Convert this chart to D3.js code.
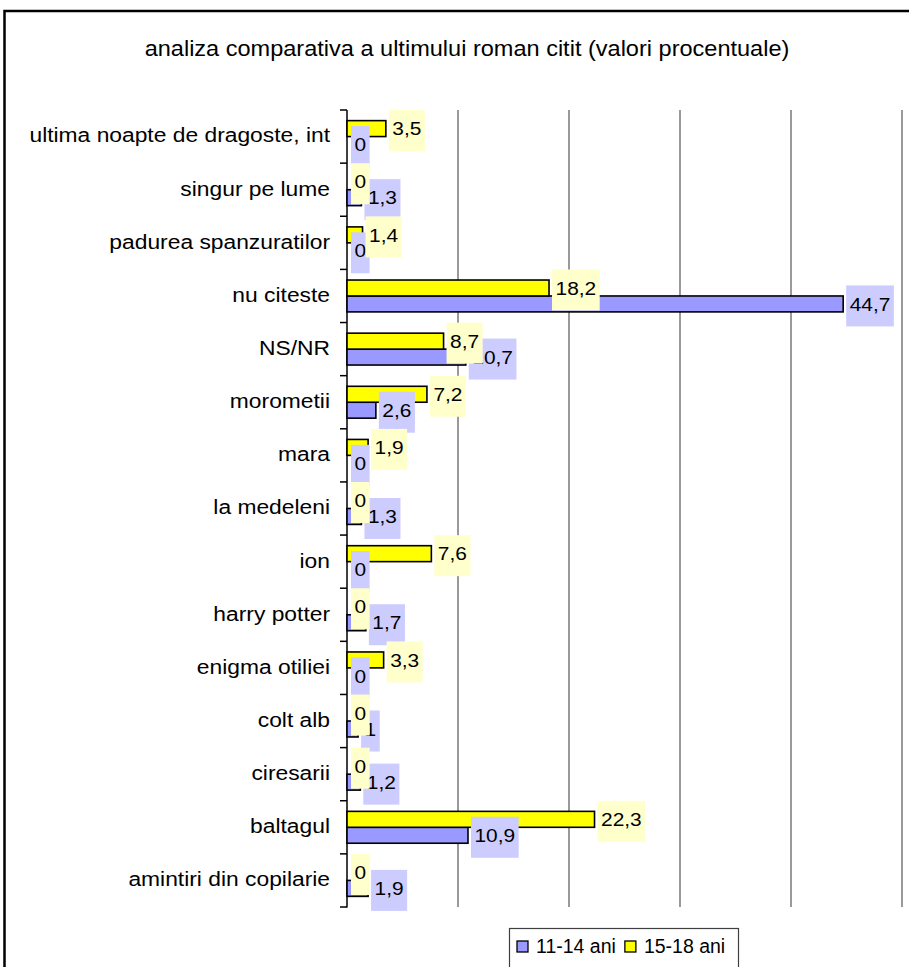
<!DOCTYPE html>
<html><head><meta charset="utf-8">
<script src="https://cdn.jsdelivr.net/npm/d3@7/dist/d3.min.js"></script>
<style>
body{margin:0;background:#fff}
text{font-family:"Liberation Sans",Arial,sans-serif;fill:#000}
</style></head>
<body><svg id="c" width="909" height="967"></svg>
<script>
const title = "analiza comparativa a ultimului roman citit (valori procentuale)";
const categories = ["amintiri din copilarie","baltagul","ciresarii","colt alb","enigma otiliei","harry potter","ion","la medeleni","mara","morometii","NS/NR","nu citeste","padurea spanzuratilor","singur pe lume","ultima noapte de dragoste, int"];
const seriesNames = ["11-14 ani","15-18 ani"];
const values1114 = [1.9,10.9,1.2,1,0,1.7,0,1.3,0,2.6,10.7,44.7,0,1.3,0];
const values1518 = [0,22.3,0,0,3.3,0,7.6,0,1.9,7.2,8.7,18.2,1.4,0,3.5];
const xTicks = [0,10,20,30,40,50];

const colors = {"11-14 ani":"#9999FF","15-18 ani":"#FFFF00"};
const labelBg = {"11-14 ani":"#CCCCFF","15-18 ani":"#FFFFCC"};

const svg = d3.select("#c");
svg.append("rect").attr("width",909).attr("height",967).attr("fill","#fff");
// outer frame
svg.append("rect").attr("x",4.5).attr("y",11).attr("width",1000).attr("height",1000)
  .attr("fill","none").attr("stroke","#000").attr("stroke-width",2.5);

function stretchText(sel, x, y, sx){
  sel.attr("transform",`translate(${x},${y}) scale(${sx},1)`);
  return sel;
}

// title
stretchText(svg.append("text").text(title).attr("text-anchor","middle")
  .attr("font-size",21.5), 467, 56, 1.095);

const x = d3.scaleLinear().domain([0,50]).range([347,902]);
const y = d3.scaleBand().domain(categories.slice().reverse()).range([110,907]);
const sub = d3.scaleBand().domain(["15-18 ani","11-14 ani"]).range([0,y.bandwidth()]).paddingInner(0).paddingOuter(0.667);

// gridlines
svg.append("g").selectAll("line").data(xTicks.filter(d=>d>0)).join("line")
  .attr("x1",d=>x(d)).attr("x2",d=>x(d)).attr("y1",110).attr("y2",907)
  .attr("stroke","#808080").attr("stroke-width",1.6);

// y axis line and ticks
const bounds = categories.map(c=>y(c)).concat([907]);
svg.append("line").attr("x1",347).attr("x2",347).attr("y1",110).attr("y2",907.5)
  .attr("stroke","#000").attr("stroke-width",1.5);
svg.append("g").selectAll("line").data(bounds).join("line")
  .attr("x1",340).attr("x2",347).attr("y1",d=>d).attr("y2",d=>d)
  .attr("stroke","#000").attr("stroke-width",1.5);

// category labels
categories.forEach(c=>{
  stretchText(svg.append("text").text(c).attr("text-anchor","end").attr("font-size",19.5)
    .attr("dominant-baseline","central"), 330, y(c)+y.bandwidth()/2 - 1, 1.17);
});

const rows = [];
categories.forEach((c,i)=>{
  rows.push({cat:c, s:"11-14 ani", v:values1114[i]});
  rows.push({cat:c, s:"15-18 ani", v:values1518[i]});
});

// bars
svg.append("g").selectAll("rect").data(rows).join("rect")
  .attr("x",x(0)).attr("y",d=>y(d.cat)+sub(d.s))
  .attr("width",d=>x(d.v)-x(0)).attr("height",sub.bandwidth())
  .attr("fill",d=>colors[d.s]).attr("stroke","#000").attr("stroke-width",1.6);

// data labels: series 11-14 first, then 15-18 on top
const fmt = v => String(v).replace(".",",");
const lsx = 1.1;
["11-14 ani","15-18 ani"].forEach(s=>{
  rows.filter(r=>r.s===s).forEach(r=>{
    const cy = y(r.cat)+sub(r.s)+sub.bandwidth()/2;
    const bx = (r.v>0? x(r.v)+3 : x(0)+4);
    const g = svg.append("g");
    const bg = g.append("rect");
    const t = stretchText(g.append("text").text(fmt(r.v)).attr("font-size",19)
      .attr("dominant-baseline","central"), bx+3.5, cy, lsx);
    const w = t.node().getComputedTextLength()*lsx;
    bg.attr("x",bx).attr("y",cy-18.5).attr("width",w+7).attr("height",41).attr("fill",labelBg[s]);
  });
});

// legend
const lg = svg.append("g");
lg.append("rect").attr("x",509.5).attr("y",928.5).attr("width",229).attr("height",60)
  .attr("fill","#fff").attr("stroke","#404040").attr("stroke-width",1.2);
let lx = 517;
seriesNames.forEach(s=>{
  lg.append("rect").attr("x",lx).attr("y",941).attr("width",11).attr("height",11)
    .attr("fill",colors[s]).attr("stroke","#000").attr("stroke-width",1.3);
  const t = lg.append("text").text(s).attr("x",lx+19).attr("y",953).attr("font-size",19.5);
  lx += 19 + t.node().getComputedTextLength() + 9;
});
</script></body></html>
